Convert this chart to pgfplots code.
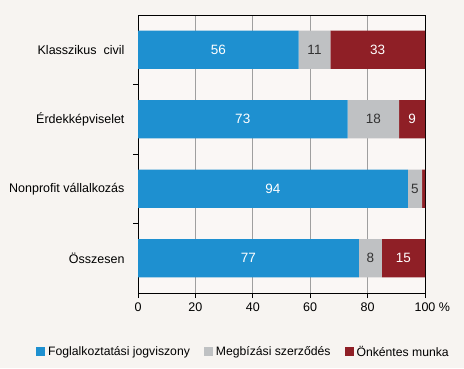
\documentclass[border=0pt]{standalone}
\usepackage{pgfplots}
\pgfplotsset{compat=1.18}
\usepackage{pgfplotstable}
\usepackage{fontspec}
\setmainfont{Liberation Sans}
\definecolor{bg}{HTML}{F7F4F1}
\definecolor{bgin}{HTML}{FAF7F5}
\definecolor{cblue}{HTML}{1E90D0}
\definecolor{cgray}{HTML}{BFC1C3}
\definecolor{cred}{HTML}{8F1F26}
\pgfplotsset{
  layers/mylayers/.define layer set={axis background,axis grid,main,axis ticks,axis lines,axis tick labels,axis descriptions,axis foreground}{},
}
\pgfplotstableread{
y a b c la lb lc
3 56 11 33 56 11 33
2 73 18 9 73 18 9
1 94 5 1 94 5 {}
0 77 8 15 77 8 15
}\data
\begin{document}
\begin{tikzpicture}[x=1pt,y=1pt]
\fill[bg] (0,0) rectangle (464,368);
\begin{axis}[
  set layers=mylayers,
  at={(138pt,75pt)}, anchor=south west,
  scale only axis, width=287pt, height=278pt,
  xbar stacked, bar width=0.55,
  xmin=0, xmax=100, ymin=-0.5, ymax=3.5,
  xtick={0,20,40,60,80,100},
  xticklabels={0,20,40,60,80,100\rlap{ \%}},
  ytick={0.5,1.5,2.5}, yticklabels={},
  extra y ticks={0,1,2,3},
  extra y tick labels={Összesen,Nonprofit vállalkozás,Érdekképviselet,Klasszikus\ \ civil},
  extra y tick style={tick style={draw=none}},
  xtick pos=bottom, ytick pos=left,
  tick align=outside, major tick length=5pt,
  tick style={black, line width=0.8pt},
  axis line style={black, line width=0.9pt},
  xmajorgrids, grid style={gray!75, line width=0.7pt},
  tick label style={font=\fontsize{12.5}{14}\selectfont},
  yticklabel style={xshift=-5pt},
  xticklabel style={yshift=-1pt},
  axis background/.style={fill=bgin},
  legend style={at={(0.364,-0.212)}, anchor=center, draw=none, fill=none,
    font=\fontsize{12.2}{14}\selectfont,
    nodes={inner xsep=0pt},
    /tikz/every even column/.append style={column sep=14pt},
    /tikz/every odd column/.append style={column sep=3pt}},
  legend columns=3,
  legend image code/.code={\path[#1] (0pt,-4.5pt) rectangle (9pt,4.5pt);},
  point meta=explicit symbolic,
  nodes near coords={\pgfplotspointmeta},
  nodes near coords style={font=\fontsize{13.5}{15}\selectfont, anchor=center},
]
\addplot[fill=cblue, draw=none,
  nodes near coords style={text=white}]
  table[x=a, y=y, meta=la]{\data};
\addplot[fill=cgray, draw=none,
  nodes near coords style={text=black!80}]
  table[x=b, y=y, meta=lb]{\data};
\addplot[fill=cred, draw=none,
  nodes near coords style={text=white}]
  table[x=c, y=y, meta=lc]{\data};
\legend{Foglalkoztatási jogviszony, Megbízási szerződés, Önkéntes munka}
\end{axis}
\end{tikzpicture}
\end{document}
